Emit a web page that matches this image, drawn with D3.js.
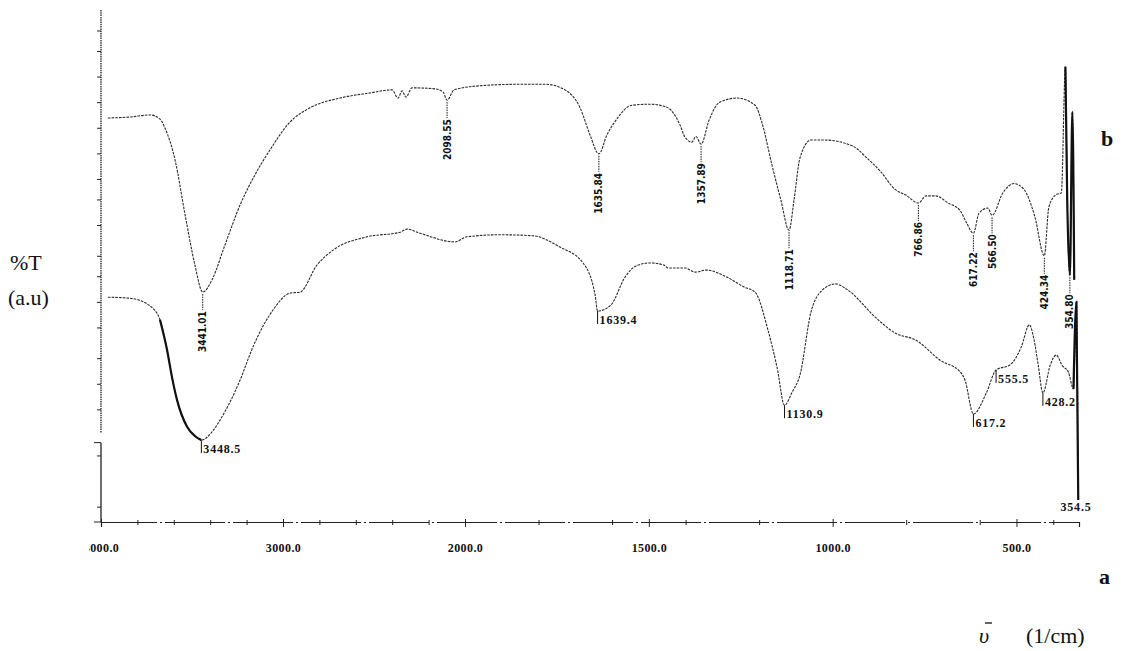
<!DOCTYPE html>
<html>
<head>
<meta charset="utf-8">
<script src="https://cdn.jsdelivr.net/npm/d3@7/dist/d3.min.js"></script>
<style>
  body { margin: 0; background: #fff; }
  svg { display: block; }
  .curve { fill: none; stroke: #2a2a2a; stroke-width: 1.1; stroke-dasharray: 2.6 1.1; }
  .heavy { fill: none; stroke: #111; stroke-width: 2.2; }
  .lblB { font-family: "DejaVu Sans Condensed", "DejaVu Sans", sans-serif; font-weight: bold; font-size: 10px; fill: #111; }
  .lblA { font-family: "Liberation Serif", serif; font-weight: bold; font-size: 12px; fill: #111; letter-spacing: 0.8px; }
  .axis text { font-family: "Liberation Serif", serif; font-weight: bold; font-size: 12px; letter-spacing: 0.4px; fill: #111; }
  .axis line, .axis path { stroke: #222; }
  .big { font-family: "Liberation Serif", "Times New Roman", serif; font-size: 22px; fill: #111; }
</style>
</head>
<body>
<svg id="chart" width="1130" height="651"></svg>
<script>
// ── Data ──────────────────────────────────────────────────────────────────────
// spectrum b (upper)
const wnB = [3962, 3841, 3731, 3676, 3648, 3593, 3538, 3484, 3441.01, 3390, 3319, 3236, 3154, 3071,
  2962, 2852, 2687, 2522, 2401, 2368, 2346, 2324, 2291, 2165, 2121, 2098.55, 2060, 1959, 1850, 1782,
  1728, 1687, 1660, 1635.84, 1614, 1592, 1546, 1497, 1451, 1415, 1402, 1383, 1372, 1357.89, 1336,
  1307, 1260, 1211, 1192, 1165, 1141, 1118.71, 1105, 1089, 1059, 1021, 945, 907, 869, 831, 800,
  766.86, 746, 720, 686, 654, 637, 617.22, 602, 578, 566.5, 537, 507, 480, 450, 424.34, 412, 393,
  378, 367, 362, 354.8, 348, 343];
const tB = [78.9, 79.1, 79.5, 78.7, 76.9, 70.7, 60.0, 50.2, 44.9, 47.3, 54.1, 61.9, 67.8, 72.7,
  78.1, 80.9, 82.8, 83.8, 84.4, 82.8, 84.2, 83.0, 84.8, 84.6, 84.0, 82.4, 84.4, 85.2, 85.5, 85.5,
  84.4, 80.9, 75.6, 71.9, 75.6, 78.2, 81.4, 81.6, 81.0, 77.5, 75.2, 74.2, 75.3, 73.8, 78.5,
  82.0, 82.8, 81.4, 77.9, 69.7, 62.9, 57.0, 62.9, 71.1, 74.6, 74.6, 73.4, 71.1, 68.4, 65.0, 63.8,
  62.3, 63.7, 63.7, 62.3, 60.9, 58.6, 56.4, 60.3, 61.3, 59.9, 64.3, 66.1, 65.0, 59.6, 52.0, 61.5, 63.9,
  64.3, 88.9, 62.9, 48.2, 80.1, 47.3];

// spectrum a (lower)
const wnA = [3962, 3841, 3731, 3676, 3637, 3610, 3582, 3527, 3484, 3448.5, 3390, 3346, 3236, 3165,
  3055, 2962, 2907, 2813, 2725, 2538, 2357, 2319, 2247, 2055, 1995, 1905, 1815, 1742, 1679, 1646,
  1639.4, 1603, 1565, 1535, 1497, 1459, 1448, 1401, 1374, 1344, 1287, 1241, 1211, 1176, 1151,
  1130.9, 1110, 1089, 1059, 1031, 993, 955, 887, 830, 773, 708, 653, 640, 617.2, 582, 555.5, 517,
  487, 465, 452, 441, 428.2, 408, 392, 375, 359, 345, 337, 332];
const tA = [43.9, 43.7, 42.2, 39.5, 33.6, 28.3, 23.8, 18.6, 16.8, 16.0, 17.6, 19.9, 27.7, 34.2,
  41.4, 44.7, 44.9, 50.2, 53.1, 55.7, 56.6, 57.2, 56.4, 54.7, 55.7, 56.1, 55.9, 53.7, 50.6, 44.3,
  41.2, 42.4, 47.8, 50.0, 50.6, 50.2, 49.6, 49.6, 48.8, 49.2, 47.8, 45.9, 44.9, 37.5, 30.1,
  22.8, 25.4, 28.7, 41.0, 45.1, 46.5, 45.1, 40.2, 36.9, 35.5, 31.6, 29.3, 27.7, 21.1, 25.2, 29.7, 30.7,
  34.2, 38.5, 35.5, 30.7, 25.2, 30.7, 32.6, 30.5, 29.3, 26.0, 43.0, 4.3];
const heavyRangeA = [3700, 3448.5];

// peak labels
const peaksB = [3441.01, 2098.55, 1635.84, 1357.89, 1118.71, 766.86, 617.22, 566.5, 424.34, 354.8];
const peaksA = [3448.5, 1639.4, 1130.9, 617.2, 555.5, 428.2];
const spikeLabelA = 354.5;

// axis ticks
const xTicks = [4000, 3000, 2000, 1500, 1000, 500];
const xMinorTicks = [3800, 3600, 3400, 3200, 2800, 2600, 2400, 2200, 1800, 1600, 1400, 1200, 800, 600, 400];
const yMinorTicks = [22, 27, 32, 38, 43, 48, 52, 58, 63, 67, 72, 77, 82, 87, 92, 96, 3, 13];

// ── Scales ────────────────────────────────────────────────────────────────────
const svg = d3.select("#chart");
svg.append("rect").attr("width", 1130).attr("height", 651).attr("fill", "#fff");

// instrument scale is doubled below 2000 1/cm
const x = d3.scaleLinear().domain([4000, 2000, 330]).range([101, 465, 1079]);
const y = d3.scaleLinear().domain([0, 100]).range([522, 10]);

const line = d3.line().x(d => x(d[0])).y(d => y(d[1])).curve(d3.curveMonotoneX);
const ptsB = wnB.map((w, i) => [w, tB[i]]);
const ptsA = wnA.map((w, i) => [w, tA[i]]);

// ── Axes ──────────────────────────────────────────────────────────────────────
svg.append("clipPath").attr("id", "leftcut")
  .append("rect").attr("x", 89).attr("y", -600).attr("width", 1100).attr("height", 1300);

const xAxisG = svg.append("g").attr("class", "axis")
  .attr("transform", `translate(0,${y(0)})`).attr("clip-path", "url(#leftcut)");
xAxisG.call(d3.axisBottom(x).tickValues(xTicks).tickSize(5).tickPadding(16).tickFormat(d3.format(".1f")));
xAxisG.selectAll(".tick line").attr("y1", -3);
xAxisG.select(".domain").attr("stroke-dasharray", "60 3 2 3").attr("stroke-width", 1.2);

const xMinor = svg.append("g").attr("class", "axis").attr("transform", `translate(0,${y(0)})`);
xMinor.call(d3.axisBottom(x).tickValues(xMinorTicks).tickSize(3).tickFormat(""));
xMinor.select(".domain").remove();
xMinor.selectAll(".tick line").attr("y1", -2);

const yAxisG = svg.append("g").attr("class", "axis").attr("transform", `translate(${x(4000)},0)`);
yAxisG.call(d3.axisLeft(y).tickValues(yMinorTicks).tickSize(4).tickFormat(""));
yAxisG.select(".domain").remove();
// left frame, broken near the bottom
[[100, 17.5], [15.5, 0]].forEach(([t0, t1]) => {
  yAxisG.append("line").attr("x1", 0).attr("x2", 0).attr("y1", y(t0)).attr("y2", y(t1))
    .attr("stroke", "#222").attr("stroke-width", 1.3)
    .attr("stroke-dasharray", t0 === 100 ? "1.5 0.8" : null);
});
yAxisG.append("line").attr("x1", -7).attr("x2", 0).attr("y1", y(15.5)).attr("y2", y(15.5)).attr("stroke", "#222");
yAxisG.append("line").attr("x1", -7).attr("x2", 0).attr("y1", y(0)).attr("y2", y(0)).attr("stroke", "#222");

// ── Curves ────────────────────────────────────────────────────────────────────
svg.append("path").attr("class", "curve").attr("d", line(ptsB));
svg.append("path").attr("class", "curve").attr("d", line(ptsA));
svg.append("path").attr("class", "heavy").attr("stroke-width", 2)
  .attr("d", line(ptsA.filter(p => p[0] <= heavyRangeA[0] && p[0] >= heavyRangeA[1])));
// sharp end spikes drawn solid
svg.append("path").attr("class", "heavy").attr("stroke-width", 1.1)
  .attr("d", line(ptsB.filter(p => p[0] <= 370)));
svg.append("path").attr("class", "heavy").attr("stroke-width", 1.6)
  .attr("d", line(ptsA.filter(p => p[0] <= 345)));

// ── Peak labels ───────────────────────────────────────────────────────────────
const tAt = (pts, w) => pts.reduce((a, b) => Math.abs(b[0] - w) < Math.abs(a[0] - w) ? b : a)[1];

const gB = svg.append("g");
peaksB.forEach(w => {
  const px = x(w), py = y(tAt(ptsB, w));
  gB.append("line").attr("x1", px).attr("x2", px).attr("y1", py + 2).attr("y2", py + 18)
    .attr("stroke", "#111").attr("stroke-width", 1).attr("stroke-dasharray", "1.5 1");
  gB.append("text").attr("class", "lblB")
    .attr("transform", `translate(${px},${py + 19}) rotate(-90)`)
    .attr("text-anchor", "end").attr("dy", "0.35em")
    .text(w.toFixed(2));
});

const gA = svg.append("g");
peaksA.forEach(w => {
  const px = x(w), py = y(tAt(ptsA, w));
  gA.append("line").attr("x1", px).attr("x2", px).attr("y1", py).attr("y2", py + 13)
    .attr("stroke", "#111").attr("stroke-width", 1);
  gA.append("text").attr("class", "lblA").attr("x", px + 2).attr("y", py + 13)
    .text(w.toFixed(1));
});
gA.append("text").attr("class", "lblA").attr("x", x(spikeLabelA) + 6).attr("y", y(d3.min(tA)) + 11)
  .attr("text-anchor", "middle").text(spikeLabelA.toFixed(1));

// ── Text ──────────────────────────────────────────────────────────────────────
svg.append("text").attr("class", "big").attr("x", 10).attr("y", 270).text("%T");
svg.append("text").attr("class", "big").attr("x", 8).attr("y", 305).text("(a.u)");
svg.append("text").attr("class", "big").attr("x", 1101).attr("y", 146).attr("font-weight", "bold").text("b");
svg.append("text").attr("class", "big").attr("x", 1099).attr("y", 584).attr("font-weight", "bold").text("a");
svg.append("text").attr("class", "big").attr("x", 979).attr("y", 643).attr("font-style", "italic").text("υ");
svg.append("line").attr("x1", 985).attr("x2", 992).attr("y1", 623).attr("y2", 623)
  .attr("stroke", "#111").attr("stroke-width", 1.3);
svg.append("text").attr("class", "big").attr("x", 1026).attr("y", 643).attr("font-size", "20px").text("(1/cm)");
</script>
</body>
</html>
